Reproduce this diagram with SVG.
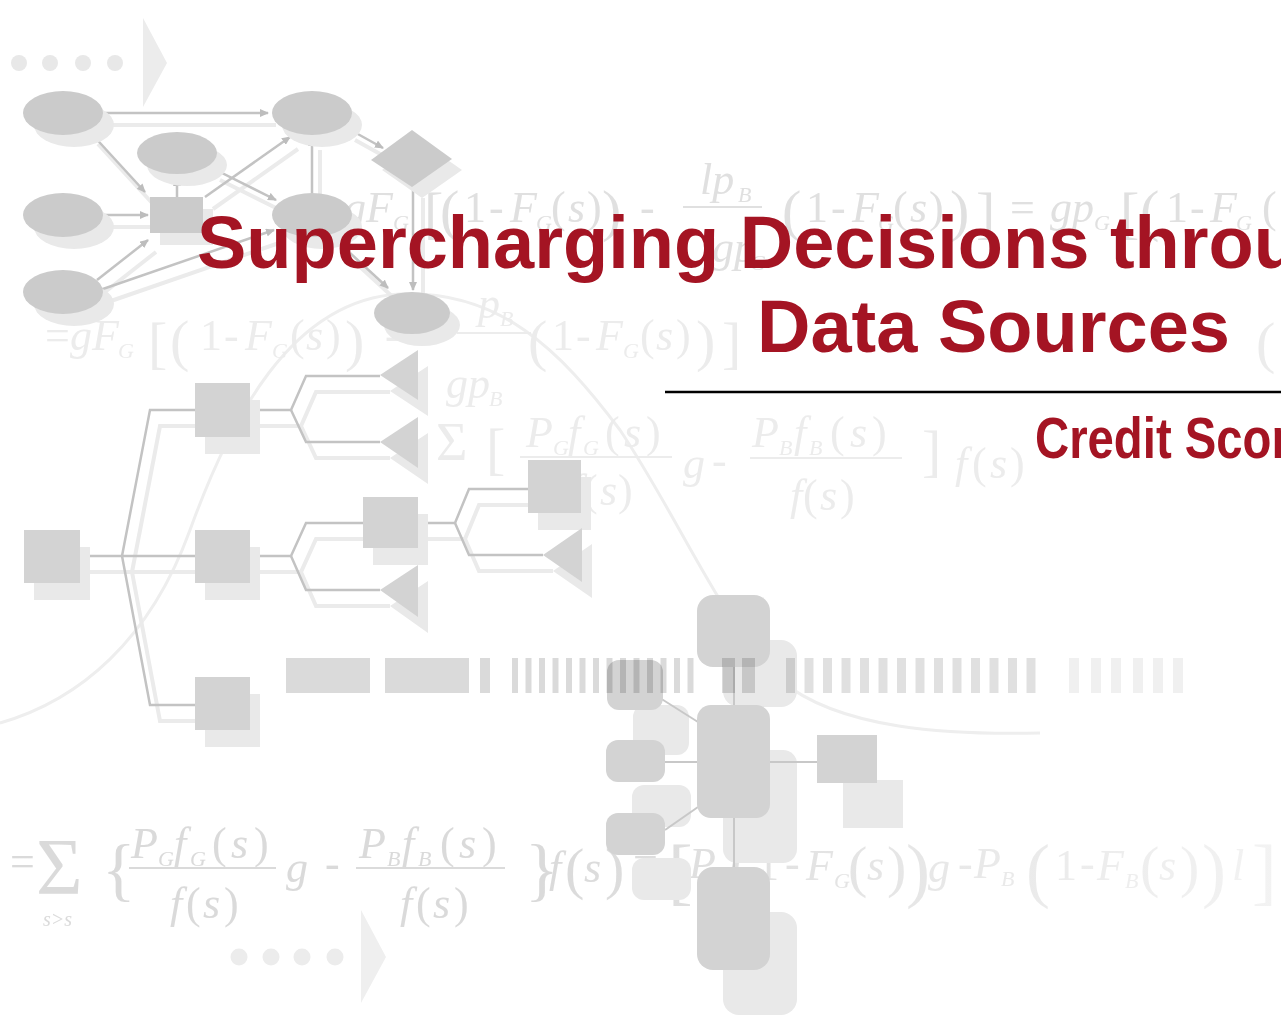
<svg xmlns="http://www.w3.org/2000/svg" width="1281" height="1032" viewBox="0 0 1281 1032">
<defs>
<style>
.fx{font-family:"Liberation Serif","Times New Roman",serif;font-style:italic;font-size:44px}
.up{font-style:normal}
.sb{font-size:22px}
.big{font-size:58px;font-style:normal}
.r1{fill:#e0e0e0}
.r2{fill:#ececec}
.node{fill:#d3d3d3}
.oval{fill:#cbcbcb}
.shd{fill:#e9e9e9}
.ln{stroke:#c3c3c3;stroke-width:2.5;fill:none}
.lns{stroke:#ebebeb;stroke-width:4;fill:none}
.title{font-family:"Liberation Sans",Arial,sans-serif;font-weight:bold;fill:#a41423}
</style>
<marker id="ah" markerWidth="9" markerHeight="8" refX="8" refY="4" orient="auto" markerUnits="userSpaceOnUse">
<path d="M0,0 L9,4 L0,8 z" fill="#bdbdbd"/>
</marker>
<filter id="soft" x="-5%" y="-5%" width="110%" height="110%"><feGaussianBlur stdDeviation="0.7"/></filter>
<linearGradient id="fade" gradientUnits="userSpaceOnUse" x1="540" y1="0" x2="1281" y2="0">
<stop offset="0" stop-color="#dadada"/><stop offset="1" stop-color="#f3f3f3"/>
</linearGradient>
</defs>
<rect width="1281" height="1032" fill="#ffffff"/>

<g id="backdrop" filter="url(#soft)">
<!-- bell curve -->
<path d="M0,723 C80,700 150,640 190,530 C230,420 290,300 400,294 C500,290 560,350 620,430 C680,520 720,620 780,680 C840,730 950,735 1040,733" fill="none" stroke="#eeeeee" stroke-width="3"/>

<!-- formula row 1 -->
<text class="fx r1"><tspan x="344" y="222">g</tspan><tspan x="366" y="222">F</tspan><tspan class="sb" x="393" y="230">G</tspan><tspan class="big" x="424" y="232">[</tspan><tspan class="big" x="440" y="230">(</tspan><tspan class="up" x="464" y="222">1</tspan><tspan class="up" x="489" y="222">-</tspan><tspan x="510" y="222">F</tspan><tspan class="sb" x="536" y="230">G</tspan><tspan class="up" x="551" y="222">(</tspan><tspan x="568" y="222">s</tspan><tspan class="up" x="587" y="222">)</tspan><tspan class="big" x="602" y="230">)</tspan><tspan class="up" x="640" y="222">-</tspan><tspan x="700" y="194">lp</tspan><tspan class="sb" x="738" y="202">B</tspan><tspan x="712" y="262">gp</tspan><tspan class="sb" x="750" y="270">G</tspan><tspan class="big" x="782" y="230">(</tspan><tspan class="up" x="806" y="222">1</tspan><tspan class="up" x="831" y="222">-</tspan><tspan x="852" y="222">F</tspan><tspan class="sb" x="878" y="230">G</tspan><tspan class="up" x="893" y="222">(</tspan><tspan x="910" y="222">s</tspan><tspan class="up" x="929" y="222">)</tspan><tspan class="big" x="950" y="230">)</tspan><tspan class="big" x="976" y="232">]</tspan><tspan class="up" x="1010" y="222">=</tspan><tspan x="1050" y="222">gp</tspan><tspan class="sb" x="1094" y="230">G</tspan><tspan class="big" x="1120" y="232">[</tspan><tspan class="big" x="1140" y="230">(</tspan><tspan class="up" x="1166" y="222">1</tspan><tspan class="up" x="1190" y="222">-</tspan><tspan x="1210" y="222">F</tspan><tspan class="sb" x="1236" y="230">G</tspan><tspan class="up" x="1262" y="222">(</tspan></text>
<line x1="683" y1="207" x2="762" y2="207" stroke="#e0e0e0" stroke-width="2"/>

<!-- formula row 2 -->
<text class="fx r2"><tspan class="up" x="45" y="350">=</tspan><tspan x="70" y="350">g</tspan><tspan x="92" y="350">F</tspan><tspan class="sb" x="118" y="358">G</tspan><tspan class="big" x="148" y="362">[</tspan><tspan class="big" x="170" y="360">(</tspan><tspan class="up" x="200" y="350">1</tspan><tspan class="up" x="224" y="350">-</tspan><tspan x="245" y="350">F</tspan><tspan class="sb" x="272" y="358">G</tspan><tspan class="up" x="290" y="350">(</tspan><tspan x="306" y="350">s</tspan><tspan class="up" x="326" y="350">)</tspan><tspan class="big" x="345" y="360">)</tspan><tspan class="up" x="385" y="350">-</tspan><tspan x="478" y="318">p</tspan><tspan class="sb" x="500" y="326">B</tspan><tspan x="446" y="398">gp</tspan><tspan class="sb" x="489" y="406">B</tspan><tspan class="big" x="528" y="360">(</tspan><tspan class="up" x="552" y="350">1</tspan><tspan class="up" x="576" y="350">-</tspan><tspan x="596" y="350">F</tspan><tspan class="sb" x="623" y="358">G</tspan><tspan class="up" x="640" y="350">(</tspan><tspan x="656" y="350">s</tspan><tspan class="up" x="676" y="350">)</tspan><tspan class="big" x="696" y="360">)</tspan><tspan class="big" x="722" y="362">]</tspan><tspan class="big" x="1256" y="362">(</tspan></text>
<line x1="457" y1="333" x2="531" y2="333" stroke="#ececec" stroke-width="2"/>

<!-- formula row 3 -->
<text class="fx r2"><tspan class="up" x="436" y="460" font-size="54">Σ</tspan><tspan class="big" x="486" y="468" font-size="64">[</tspan><tspan x="526" y="447">P</tspan><tspan class="sb" x="553" y="455">G</tspan><tspan x="568" y="447">f</tspan><tspan class="sb" x="583" y="455">G</tspan><tspan class="up" x="605" y="447">(</tspan><tspan x="624" y="447">s</tspan><tspan class="up" x="646" y="447">)</tspan><tspan x="570" y="505">f</tspan><tspan class="up" x="583" y="505">(</tspan><tspan x="600" y="505">s</tspan><tspan class="up" x="618" y="505">)</tspan><tspan x="683" y="478">g</tspan><tspan class="up" x="712" y="475">-</tspan><tspan x="752" y="447">P</tspan><tspan class="sb" x="779" y="455">B</tspan><tspan x="794" y="447">f</tspan><tspan class="sb" x="809" y="455">B</tspan><tspan class="up" x="830" y="447">(</tspan><tspan x="850" y="447">s</tspan><tspan class="up" x="872" y="447">)</tspan><tspan x="790" y="510">f</tspan><tspan class="up" x="803" y="510">(</tspan><tspan x="820" y="510">s</tspan><tspan class="up" x="840" y="510">)</tspan><tspan class="big" x="922" y="470" font-size="64">]</tspan><tspan x="955" y="478">f</tspan><tspan class="up" x="972" y="478">(</tspan><tspan x="990" y="478">s</tspan><tspan class="up" x="1010" y="478">)</tspan></text>
<line x1="520" y1="457" x2="672" y2="457" stroke="#ececec" stroke-width="2"/>
<line x1="750" y1="458" x2="902" y2="458" stroke="#ececec" stroke-width="2"/>

<!-- formula row 4 -->
<text class="fx" fill="url(#fade)" font-size="48"><tspan class="up" x="10" y="876">=</tspan><tspan class="up" x="36" y="894" font-size="80">Σ</tspan><tspan x="43" y="926" font-size="20">s&gt;s</tspan><tspan class="up" x="102" y="893" font-size="70">{</tspan><tspan x="131" y="858">P</tspan><tspan class="sb" x="158" y="866">G</tspan><tspan x="174" y="858">f</tspan><tspan class="sb" x="190" y="866">G</tspan><tspan class="up" x="212" y="858">(</tspan><tspan x="231" y="858">s</tspan><tspan class="up" x="254" y="858">)</tspan><tspan x="170" y="918">f</tspan><tspan class="up" x="186" y="918">(</tspan><tspan x="203" y="918">s</tspan><tspan class="up" x="224" y="918">)</tspan><tspan x="286" y="882">g</tspan><tspan class="up" x="325" y="878">-</tspan><tspan x="359" y="858">P</tspan><tspan class="sb" x="387" y="866">B</tspan><tspan x="402" y="858">f</tspan><tspan class="sb" x="418" y="866">B</tspan><tspan class="up" x="440" y="858">(</tspan><tspan x="459" y="858">s</tspan><tspan class="up" x="482" y="858">)</tspan><tspan x="400" y="918">f</tspan><tspan class="up" x="416" y="918">(</tspan><tspan x="433" y="918">s</tspan><tspan class="up" x="454" y="918">)</tspan><tspan class="up" x="525" y="893" font-size="70">}</tspan><tspan x="549" y="882">f</tspan><tspan class="up" x="565" y="888" font-size="58">(</tspan><tspan x="584" y="882">s</tspan><tspan class="up" x="605" y="888" font-size="58">)</tspan><tspan class="up" x="633" y="876">=</tspan><tspan class="up" x="668" y="896" font-size="74">[</tspan><tspan x="689" y="878">P</tspan><tspan class="sb" x="716" y="886">G</tspan><tspan class="up" x="728" y="894" font-size="72">(</tspan><tspan class="up" x="757" y="880">1</tspan><tspan class="up" x="785" y="878">-</tspan><tspan x="806" y="880">F</tspan><tspan class="sb" x="834" y="888">G</tspan><tspan class="up" x="848" y="886" font-size="58">(</tspan><tspan x="867" y="880">s</tspan><tspan class="up" x="887" y="886" font-size="58">)</tspan><tspan class="up" x="906" y="894" font-size="72">)</tspan><tspan x="928" y="882">g</tspan><tspan class="up" x="958" y="878">-</tspan><tspan x="974" y="878">P</tspan><tspan class="sb" x="1001" y="886">B</tspan><tspan class="up" x="1026" y="894" font-size="72">(</tspan><tspan class="up" x="1055" y="880">1</tspan><tspan class="up" x="1080" y="878">-</tspan><tspan x="1097" y="880">F</tspan><tspan class="sb" x="1125" y="888">B</tspan><tspan class="up" x="1140" y="886" font-size="58">(</tspan><tspan x="1159" y="880">s</tspan><tspan class="up" x="1180" y="886" font-size="58">)</tspan><tspan class="up" x="1202" y="894" font-size="72">)</tspan><tspan x="1232" y="880">l</tspan><tspan class="up" x="1252" y="896" font-size="74">]</tspan></text>
<line x1="129" y1="868" x2="276" y2="868" stroke="#dadada" stroke-width="2"/>
<line x1="356" y1="868" x2="505" y2="868" stroke="#dbdbdb" stroke-width="2"/>

<!-- dotted arrows -->
<g id="dots-top" fill="#e8e8e8">
<circle cx="19" cy="63" r="8"/><circle cx="50" cy="63" r="8"/><circle cx="83" cy="63" r="8"/><circle cx="115" cy="63" r="8"/>
<polygon points="143,18 167,63 143,107" fill="#ececec"/>
</g>
<g id="dots-bottom" fill="#ececec">
<circle cx="239" cy="957" r="8.5"/><circle cx="271" cy="957" r="8.5"/><circle cx="302" cy="957" r="8.5"/><circle cx="335" cy="957" r="8.5"/>
<polygon points="361,910 386,957 361,1003" fill="#efefef"/>
</g>

<!-- network: connectors -->
<g id="net-connectors">
<g class="lns" transform="translate(8,12)">
<path d="M105,113 L268,113"/><path d="M90,132 L145,192"/><path d="M205,197 L290,137"/><path d="M212,168 L276,200"/><path d="M105,215 L148,215"/><path d="M97,280 L148,240"/><path d="M100,290 L274,230"/><path d="M312,193 L312,138"/><path d="M347,128 L383,148"/><path d="M415,186 L415,290"/><path d="M350,253 L388,288"/>
</g>
<g class="ln" stroke-width="2">
<path d="M105,113 L268,113" marker-end="url(#ah)"/>
<path d="M90,132 L145,192" marker-end="url(#ah)"/>
<path d="M177,197 L177,178" marker-end="url(#ah)"/>
<path d="M205,197 L290,137" marker-end="url(#ah)"/>
<path d="M212,168 L276,200" marker-end="url(#ah)"/>
<path d="M105,215 L148,215" marker-end="url(#ah)"/>
<path d="M97,280 L148,240" marker-end="url(#ah)"/>
<path d="M100,290 L274,230" marker-end="url(#ah)"/>
<path d="M312,193 L312,138" marker-end="url(#ah)"/>
<path d="M347,128 L383,148" marker-end="url(#ah)"/>
<path d="M413,186 L413,290" marker-end="url(#ah)"/>
<path d="M350,253 L388,288" marker-end="url(#ah)"/>
</g>
</g>

<!-- network: nodes -->
<g id="net-e1"><ellipse class="shd" cx="74" cy="125" rx="40" ry="22"/><ellipse class="oval" cx="63" cy="113" rx="40" ry="22"/></g>
<g id="net-e2"><ellipse class="shd" cx="187" cy="165" rx="40" ry="21"/><ellipse class="oval" cx="177" cy="153" rx="40" ry="21"/></g>
<g id="net-e3"><ellipse class="shd" cx="322" cy="125" rx="40" ry="22"/><ellipse class="oval" cx="312" cy="113" rx="40" ry="22"/></g>
<g id="net-e4"><ellipse class="shd" cx="74" cy="227" rx="40" ry="22"/><ellipse class="oval" cx="63" cy="215" rx="40" ry="22"/></g>
<g id="net-e5"><ellipse class="shd" cx="322" cy="227" rx="40" ry="22"/><ellipse class="oval" cx="312" cy="215" rx="40" ry="22"/></g>
<g id="net-e6"><ellipse class="shd" cx="74" cy="304" rx="40" ry="22"/><ellipse class="oval" cx="63" cy="292" rx="40" ry="22"/></g>
<g id="net-e7"><ellipse class="shd" cx="422" cy="325" rx="38" ry="21"/><ellipse class="oval" cx="412" cy="313" rx="38" ry="21"/></g>
<g id="net-hub"><rect class="shd" x="160" y="209" width="53" height="36"/><rect x="150" y="197" width="53" height="36" fill="#cbcbcb"/></g>
<g id="net-diamond"><polygon class="shd" points="422,142 462,170 422,198 382,170"/><polygon class="oval" points="412,130 452,159 412,187 371,160"/></g>

<!-- decision tree: connectors -->
<g id="tree-connectors">
<g class="lns" transform="translate(10,16)">
<path d="M80,556 H195"/><path d="M122,556 L150,410 H195"/><path d="M122,556 L150,705 H195"/>
<path d="M250,410 H291 L306,376 H380"/><path d="M291,410 L306,442 H380"/>
<path d="M250,556 H291 L306,523 H363"/><path d="M291,556 L306,590 H380"/>
<path d="M418,523 H455 L469,489 H528"/><path d="M455,523 L469,555 H543"/>
</g>
<g class="ln" stroke-width="3">
<path d="M80,556 H195"/><path d="M122,556 L150,410 H195"/><path d="M122,556 L150,705 H195"/>
<path d="M250,410 H291 L306,376 H380"/><path d="M291,410 L306,442 H380"/>
<path d="M250,556 H291 L306,523 H363"/><path d="M291,556 L306,590 H380"/>
<path d="M418,523 H455 L469,489 H528"/><path d="M455,523 L469,555 H543"/>
</g>
</g>

<!-- decision tree: nodes -->
<g id="tree-root"><rect class="shd" x="34" y="547" width="56" height="53"/><rect class="node" x="24" y="530" width="56" height="53"/></g>
<g id="tree-a"><rect class="shd" x="205" y="400" width="55" height="54"/><rect class="node" x="195" y="383" width="55" height="54"/></g>
<g id="tree-b"><rect class="shd" x="205" y="547" width="55" height="53"/><rect class="node" x="195" y="530" width="55" height="53"/></g>
<g id="tree-c"><rect class="shd" x="205" y="694" width="55" height="53"/><rect class="node" x="195" y="677" width="55" height="53"/></g>
<g id="tree-d"><rect class="shd" x="373" y="514" width="55" height="51"/><rect class="node" x="363" y="497" width="55" height="51"/></g>
<g id="tree-e"><rect class="shd" x="538" y="477" width="53" height="53"/><rect class="node" x="528" y="460" width="53" height="53"/></g>
<g id="tree-t1"><polygon class="shd" points="390,391 428,366 428,416"/><polygon class="node" points="380,375 418,350 418,400"/></g>
<g id="tree-t2"><polygon class="shd" points="390,458 428,433 428,484"/><polygon class="node" points="380,442 418,417 418,468"/></g>
<g id="tree-t3"><polygon class="shd" points="390,606 428,581 428,633"/><polygon class="node" points="380,590 418,565 418,617"/></g>
<g id="tree-t4"><polygon class="shd" points="553,571 592,544 592,598"/><polygon class="node" points="543,555 582,528 582,582"/></g>

<!-- storage cluster -->
<g id="store-shadows" class="shd">
<rect x="723" y="640" width="74" height="67" rx="16"/>
<rect x="633" y="705" width="56" height="50" rx="12"/>
<rect x="723" y="750" width="74" height="113" rx="14"/>
<rect x="632" y="785" width="59" height="42" rx="12"/>
<rect x="632" y="858" width="59" height="42" rx="12"/>
<rect x="843" y="780" width="60" height="48"/>
<rect x="723" y="912" width="74" height="103" rx="16"/>
</g>
<g id="store-connectors" stroke="#c8c8c8" stroke-width="2" fill="none">
<path d="M734,667 V705"/><path d="M660,698 L698,722"/><path d="M665,762 H697"/><path d="M665,830 L698,807"/><path d="M770,762 H817"/><path d="M734,818 V867"/>
</g>
<g id="store-top"><rect class="node" x="697" y="595" width="73" height="72" rx="16"/></g>
<g id="store-core"><rect class="node" x="697" y="705" width="73" height="113" rx="14"/></g>
<g id="store-s1"><rect class="node" x="607" y="660" width="56" height="50" rx="12"/></g>
<g id="store-s2"><rect class="node" x="606" y="740" width="59" height="42" rx="12"/></g>
<g id="store-s3"><rect class="node" x="606" y="813" width="59" height="42" rx="12"/></g>
<g id="store-out"><rect class="node" x="817" y="735" width="60" height="48"/></g>
<g id="store-base"><rect class="node" x="697" y="867" width="73" height="103" rx="16"/></g>

<!-- bar strip -->
<g id="strip" fill="#000">
<g fill-opacity="0.145">
<rect x="286" y="658" width="84" height="35"/><rect x="385" y="658" width="84" height="35"/><rect x="480" y="658" width="10" height="35"/>
<rect x="512" y="658" width="6" height="35"/><rect x="525.5" y="658" width="6" height="35"/><rect x="539" y="658" width="6" height="35"/><rect x="552.5" y="658" width="6" height="35"/><rect x="566" y="658" width="6" height="35"/><rect x="579.5" y="658" width="6" height="35"/><rect x="593" y="658" width="6" height="35"/><rect x="606.5" y="658" width="6" height="35"/><rect x="620" y="658" width="6" height="35"/><rect x="633.5" y="658" width="6" height="35"/><rect x="647" y="658" width="6" height="35"/><rect x="660.5" y="658" width="6" height="35"/><rect x="674" y="658" width="6" height="35"/><rect x="687.5" y="658" width="6" height="35"/>
<rect x="722" y="658" width="13" height="35"/><rect x="742" y="658" width="13" height="35"/>
</g>
<g fill-opacity="0.12">
<rect x="786" y="658" width="9" height="35"/><rect x="804.5" y="658" width="9" height="35"/><rect x="823" y="658" width="9" height="35"/><rect x="841.5" y="658" width="9" height="35"/><rect x="860" y="658" width="9" height="35"/><rect x="878.5" y="658" width="9" height="35"/><rect x="897" y="658" width="9" height="35"/><rect x="915.5" y="658" width="9" height="35"/><rect x="934" y="658" width="9" height="35"/><rect x="952.5" y="658" width="9" height="35"/><rect x="971" y="658" width="9" height="35"/><rect x="989.5" y="658" width="9" height="35"/><rect x="1008" y="658" width="9" height="35"/><rect x="1026.5" y="658" width="9" height="35"/>
</g>
<g fill-opacity="0.06">
<rect x="1069" y="658" width="10" height="35"/><rect x="1091" y="658" width="10" height="35"/><rect x="1111" y="658" width="10" height="35"/><rect x="1133" y="658" width="10" height="35"/><rect x="1153" y="658" width="10" height="35"/><rect x="1173" y="658" width="10" height="35"/>
</g>
</g>
</g>

<!-- title block -->
<g id="title">
<text class="title" x="197" y="268" font-size="74">Supercharging Decisions throu</text>
<text class="title" x="757" y="352" font-size="74">Data Sources</text>
<line x1="665" y1="392" x2="1281" y2="392" stroke="#000000" stroke-width="2.5"/>
<text class="title" font-size="57" transform="translate(1035,458) scale(0.83,1)">Credit Scor</text>
</g>
</svg>
